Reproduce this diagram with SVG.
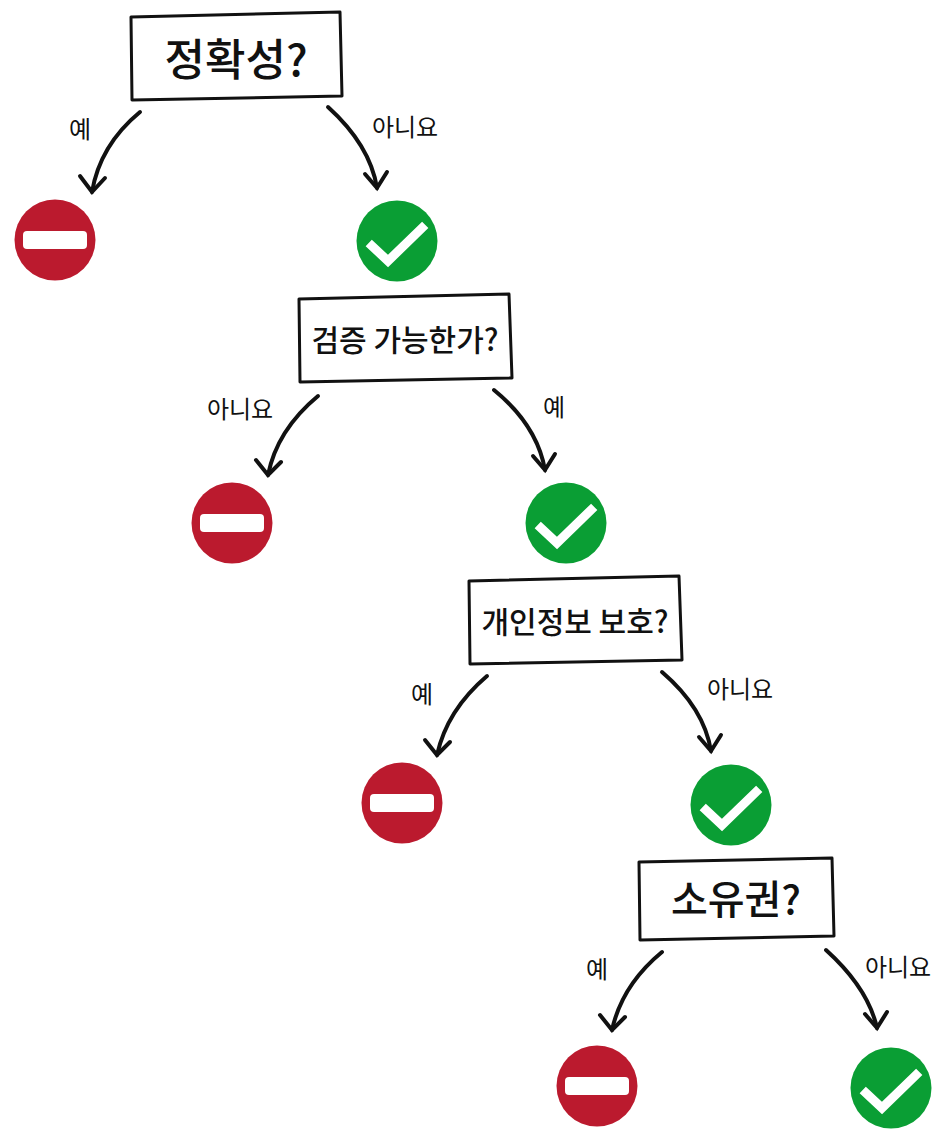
<svg xmlns="http://www.w3.org/2000/svg" width="944" height="1136" viewBox="0 0 944 1136">
<defs>
<style>
.box{fill:#fff;stroke:#111;stroke-width:3;stroke-linejoin:round}
.q{font-family:"Noto Sans CJK KR","Noto Sans",sans-serif;font-weight:500;fill:#111;text-anchor:middle}
.l{font-family:"Noto Sans CJK KR","Noto Sans",sans-serif;font-size:24px;fill:#111;text-anchor:middle}
.c{fill:none;stroke:#111;stroke-width:4;stroke-linecap:round}
.r{fill:#BB1A2E}.g{fill:#0A9E34}
.ck{fill:none;stroke:#fff;stroke-width:9;stroke-linecap:square}
</style>
<symbol id="no" viewBox="-41 -41 82 82"><circle r="40.5" class="r"/><rect x="-32" y="-9" width="64" height="18" rx="4" fill="#fff"/></symbol>
<symbol id="ok" viewBox="-41 -41 82 82"><circle r="40.5" class="g"/><path class="ck" d="M-25 5 L-9 20 L25 -13"/></symbol>
</defs>
<g id="connectors">
<path class="c" d="M140 112 Q100 145 92 192"/><path class="c" d="M80 176 L92 192 L105 178"/>
<path class="c" d="M328 107 Q370 145 377 188"/><path class="c" d="M365 174 L377 188 L387 172"/>
<path class="c" d="M318 396 Q277 430 268 475"/><path class="c" d="M256 460 L268 475 L281 462"/>
<path class="c" d="M494 390 Q537 425 545 470"/><path class="c" d="M533 456 L545 470 L555 454"/>
<path class="c" d="M487 676 Q447 710 437 755"/><path class="c" d="M425 740 L437 755 L450 742"/>
<path class="c" d="M662 672 Q704 708 711 751"/><path class="c" d="M699 737 L711 751 L721 735"/>
<path class="c" d="M662 952 Q622 985 612 1030"/><path class="c" d="M600 1015 L612 1030 L625 1017"/>
<path class="c" d="M826 950 Q868 988 877 1028"/><path class="c" d="M865 1014 L877 1028 L887 1012"/>
</g>
<g id="labels">
<text class="l" x="80" y="138">예</text><text class="l" x="405" y="136">아니요</text>
<text class="l" x="240" y="418">아니요</text><text class="l" x="554" y="416">예</text>
<text class="l" x="422" y="703">예</text><text class="l" x="740" y="698">아니요</text>
<text class="l" x="597" y="978">예</text><text class="l" x="898" y="976">아니요</text>
</g>
<g id="q1"><path class="box" d="M131 17 L340 12 L342 96 L132 100 Z"/><text class="q" x="236" y="76" font-size="44">정확성?</text></g>
<g id="q2"><path class="box" d="M299 299 L509 294 L512 378 L300 382 Z"/><text class="q" x="405" y="351" font-size="30">검증 가능한가?</text></g>
<g id="q3"><path class="box" d="M469 581 L679 576 L682 660 L470 664 Z"/><text class="q" x="575" y="633" font-size="30">개인정보 보호?</text></g>
<g id="q4"><path class="box" d="M639 862 L832 858 L834 936 L640 940 Z"/><text class="q" x="736" y="914" font-size="40">소유권?</text></g>
<g id="n1"><use href="#no" x="14" y="199" width="82" height="82"/></g>
<g id="n2"><use href="#ok" x="356" y="200" width="82" height="82"/></g>
<g id="n3"><use href="#no" x="191" y="482" width="82" height="82"/></g>
<g id="n4"><use href="#ok" x="525" y="482" width="82" height="82"/></g>
<g id="n5"><use href="#no" x="361" y="762" width="82" height="82"/></g>
<g id="n6"><use href="#ok" x="690" y="764" width="82" height="82"/></g>
<g id="n7"><use href="#no" x="556" y="1045" width="82" height="82"/></g>
<g id="n8"><use href="#ok" x="850" y="1047" width="82" height="82"/></g>
</svg>
